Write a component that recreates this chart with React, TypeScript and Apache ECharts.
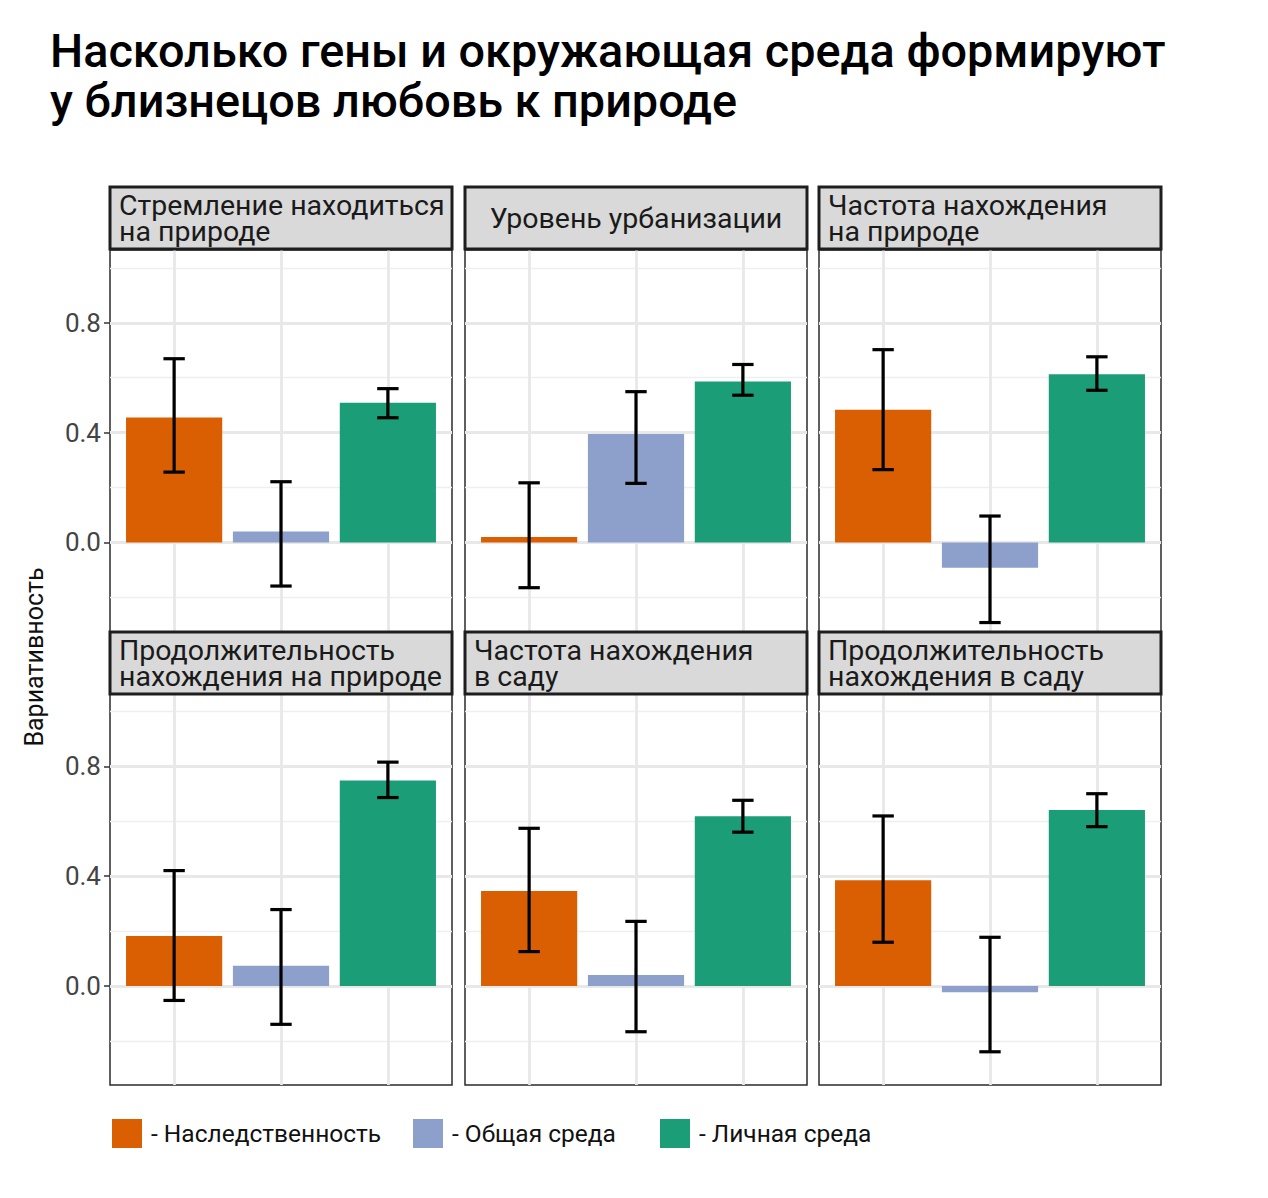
import React, { useEffect, useRef } from "react";
import * as echarts from "echarts";

// ---------- data ----------
const panelTitles = [
  "Стремление находиться\nна природе",
  "Уровень урбанизации",
  "Частота нахождения\nна природе",
  "Продолжительность\nнахождения на природе",
  "Частота нахождения\nв саду",
  "Продолжительность\nнахождения в саду",
];
const panelTitleAlign = ["left", "center", "left", "left", "left", "left"];

const components = ["Наследственность", "Общая среда", "Личная среда"];
const componentColors = ["#D95F02", "#8DA0CB", "#1B9E77"];

const heritability = [0.455, 0.02, 0.483, 0.182, 0.346, 0.385];
const heritabilityLow = [0.256, -0.165, 0.265, -0.053, 0.125, 0.159];
const heritabilityHigh = [0.669, 0.217, 0.702, 0.42, 0.574, 0.619];

const commonEnv = [0.04, 0.395, -0.092, 0.073, 0.04, -0.023];
const commonEnvLow = [-0.159, 0.215, -0.292, -0.14, -0.167, -0.24];
const commonEnvHigh = [0.221, 0.549, 0.096, 0.278, 0.235, 0.177];

const uniqueEnv = [0.509, 0.586, 0.612, 0.748, 0.618, 0.641];
const uniqueEnvLow = [0.454, 0.536, 0.554, 0.686, 0.56, 0.58];
const uniqueEnvHigh = [0.56, 0.648, 0.676, 0.815, 0.676, 0.7];

const yTickLabels = [0, 0.4, 0.8];
const yMinorLines = [-0.2, 0.2, 0.6, 1.0];
const xCategoryPositions = [1, 2, 3];

const chartTitle = "Насколько гены и окружающая среда формируют\nу близнецов любовь к природе";
const yAxisTitle = "Вариативность";

// ---------- layout ----------
const W = 1268;
const H = 1198;
const colLeft = [110, 465, 819];
const panelW = 342;
const headerTop = [187, 632];
const headerH = 62;
const gridTop = [250, 693.5];
const gridH = 391.5;
const Y_MIN = -0.361;
const Y_MAX = 1.065;
const X_MIN = 0.4;
const X_MAX = 3.6;
const FONT = "Roboto, 'Noto Sans', sans-serif";
const legendLefts = [112, 413, 660];

export default function App() {
  const ref = useRef<HTMLDivElement>(null);

  useEffect(() => {
    if (!ref.current) return;
    const chart = echarts.init(ref.current, undefined, { renderer: "svg" });

    const values = [heritability, commonEnv, uniqueEnv];
    const lows = [heritabilityLow, commonEnvLow, uniqueEnvLow];
    const highs = [heritabilityHigh, commonEnvHigh, uniqueEnvHigh];

    const barW = (0.9 * panelW) / (X_MAX - X_MIN);

    const grids: any[] = [];
    const xAxes: any[] = [];
    const yAxes: any[] = [];
    const series: any[] = [];
    const graphics: any[] = [];

    for (let p = 0; p < 6; p++) {
      const row = Math.floor(p / 3);
      const col = p % 3;
      grids.push({
        left: colLeft[col],
        top: gridTop[row],
        width: panelW,
        height: gridH,
        show: true,
        backgroundColor: "transparent",
        borderColor: "#2b2b2b",
        borderWidth: 1.5,
        containLabel: false,
      });
      xAxes.push({
        type: "value",
        gridIndex: p,
        min: X_MIN,
        max: X_MAX,
        axisLine: { show: false },
        axisTick: { show: false },
        axisLabel: { show: false },
        splitLine: { show: false },
      });
      yAxes.push({
        type: "value",
        gridIndex: p,
        min: Y_MIN,
        max: Y_MAX,
        axisLine: { show: false },
        splitLine: { show: false },
        axisTick: {
          show: col === 0,
          customValues: yTickLabels,
          length: 6,
          lineStyle: { color: "#333", width: 1.5 },
        },
        axisLabel: {
          show: col === 0,
          customValues: yTickLabels,
          formatter: (v: number) => v.toFixed(1),
          fontFamily: FONT,
          fontSize: 26,
          color: "#444",
          margin: 9,
        },
      });

      // gridlines
      series.push({
        type: "line",
        name: "grid" + p,
        xAxisIndex: p,
        yAxisIndex: p,
        data: [],
        silent: true,
        markLine: {
          silent: true,
          z: 0,
          symbol: "none",
          animation: false,
          label: { show: false },
          emphasis: { disabled: true },
          data: [
            ...yMinorLines.map((v) => ({ yAxis: v, lineStyle: { color: "#EFEFEF", width: 1.4, type: "solid" } })),
            ...yTickLabels.map((v) => ({ yAxis: v, lineStyle: { color: "#E8E8E8", width: 2.8, type: "solid" } })),
            ...xCategoryPositions.map((v) => ({ xAxis: v, lineStyle: { color: "#E8E8E8", width: 2.8, type: "solid" } })),
          ],
        },
      });

      // bars
      for (let c = 0; c < 3; c++) {
        series.push({
          type: "bar",
          name: components[c],
          xAxisIndex: p,
          yAxisIndex: p,
          barWidth: barW,
          barGap: "-100%",
          z: 2,
          itemStyle: { color: componentColors[c] },
          data: [[xCategoryPositions[c], values[c][p]]],
        });
      }

      // error bars
      series.push({
        type: "custom",
        name: "err" + p,
        xAxisIndex: p,
        yAxisIndex: p,
        z: 4,
        encode: { x: 0, y: [1, 2] },
        data: [0, 1, 2].map((c) => [xCategoryPositions[c], lows[c][p], highs[c][p]]),
        renderItem: (params: any, api: any) => {
          const x = api.value(0);
          const lo = api.value(1);
          const hi = api.value(2);
          const pHi = api.coord([x, hi]);
          const pLo = api.coord([x, lo]);
          const half = api.size([0.2, 0])[0] / 2;
          const style = { stroke: "#000", lineWidth: 3.2 };
          return {
            type: "group",
            children: [
              { type: "line", shape: { x1: pHi[0], y1: pHi[1], x2: pLo[0], y2: pLo[1] }, style },
              { type: "line", shape: { x1: pHi[0] - half, y1: pHi[1], x2: pHi[0] + half, y2: pHi[1] }, style },
              { type: "line", shape: { x1: pLo[0] - half, y1: pLo[1], x2: pLo[0] + half, y2: pLo[1] }, style },
            ],
          };
        },
      });

      // header strip
      graphics.push({
        type: "rect",
        z: 100,
        shape: { x: colLeft[col], y: headerTop[row], width: panelW, height: headerH },
        style: { fill: "#D9D9D9", stroke: "#1e1e1e", lineWidth: 3 },
      });
      const align = panelTitleAlign[p];
      graphics.push({
        type: "text",
        z: 101,
        x: align === "center" ? colLeft[col] + panelW / 2 : colLeft[col] + 9,
        y: headerTop[row] + headerH / 2,
        style: {
          text: panelTitles[p],
          font: `28.5px ${FONT}`,
          fill: "#1a1a1a",
          align: align,
          verticalAlign: "middle",
          lineHeight: 26,
        },
      });
    }

    graphics.push({
      type: "text",
      z: 101,
      x: 50,
      y: 26,
      style: {
        text: chartTitle,
        font: `500 46.8px ${FONT}`,
        fill: "#000",
        align: "left",
        verticalAlign: "top",
        lineHeight: 50,
      },
    });
    graphics.push({
      type: "text",
      z: 101,
      x: 34,
      y: 657,
      rotation: Math.PI / 2,
      style: {
        text: yAxisTitle,
        font: `25px ${FONT}`,
        fill: "#111",
        align: "center",
        verticalAlign: "middle",
      },
    });

    const legends = components.map((name, i) => ({
      data: [name],
      left: legendLefts[i],
      top: 1119,
      padding: 0,
      icon: "rect",
      itemWidth: 30,
      itemHeight: 29,
      selectedMode: false,
      formatter: (n: string) => "- " + n,
      textStyle: { fontFamily: FONT, fontSize: 24.5, color: "#111", padding: [0, 0, 0, 4] },
    }));

    chart.setOption({
      animation: false,
      backgroundColor: "#fff",
      grid: grids,
      xAxis: xAxes,
      yAxis: yAxes,
      series,
      graphic: { elements: graphics },
      legend: legends,
    });

    return () => chart.dispose();
  }, []);

  return (
    <div
      ref={ref}
      style={{ position: "fixed", left: 0, top: 0, width: W, height: H, background: "#fff" }}
    />
  );
}
